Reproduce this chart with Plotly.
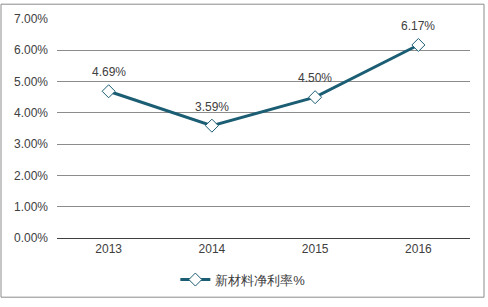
import plotly.graph_objects as go

years = ["2013", "2014", "2015", "2016"]
values = [4.69, 3.59, 4.50, 6.17]
labels = ["4.69%", "3.59%", "4.50%", "6.17%"]
series_name = "新材料净利率%"
y_ticks = [0, 1, 2, 3, 4, 5, 6, 7]
y_tick_text = ["0.00%", "1.00%", "2.00%", "3.00%", "4.00%", "5.00%", "6.00%", "7.00%"]

W, H = 488, 307
L, R, T, B = 57, 18, 16, 69
pw, ph = W - L - R, H - T - B

fig = go.Figure()
fig.add_trace(go.Scatter(
    x=years, y=values, mode="lines+markers", name=series_name,
    line=dict(color="#1B5E74", width=3),
    marker=dict(symbol="diamond", size=10, color="white",
                line=dict(color="#1B5E74", width=1)),
    cliponaxis=False,
))

annotations = [dict(x=i, y=v, text=t, showarrow=False, yshift=19, xref="x", yref="y",
                    font=dict(family="Liberation Sans, Arial", size=12, color="#404040"))
               for i, (v, t) in enumerate(zip(values, labels))]

fig.update_layout(
    width=W, height=H,
    margin=dict(l=L, r=R, t=T, b=B),
    paper_bgcolor="white", plot_bgcolor="white",
    font=dict(family="Liberation Sans, Arial", size=12, color="#404040"),
    showlegend=True,
    legend=dict(orientation="h", x=0.45, xanchor="center", y=-0.19, yanchor="middle",
                font=dict(size=13, color="#404040"), itemwidth=30),
    xaxis=dict(type="category", range=[-0.5, 3.5], showgrid=False, showline=True,
               linecolor="#404040", linewidth=1, ticks="",
               tickfont=dict(size=12, color="#404040")),
    yaxis=dict(range=[0, 7], tickvals=y_ticks, ticktext=y_tick_text,
               showgrid=True, gridcolor="#8C8C8C", gridwidth=1, zeroline=False,
               ticks="", tickfont=dict(size=12, color="#404040"), ticklabelstandoff=8),
    annotations=annotations,
    shapes=[dict(type="rect", xref="paper", yref="paper",
                 x0=(1 - L) / pw, x1=(484 - L) / pw,
                 y0=(H - B - 298) / ph, y1=(H - B - 1) / ph,
                 line=dict(color="#8C8C8C", width=1), fillcolor="rgba(0,0,0,0)",
                 layer="below")],
)

fig.write_html("out.html")
